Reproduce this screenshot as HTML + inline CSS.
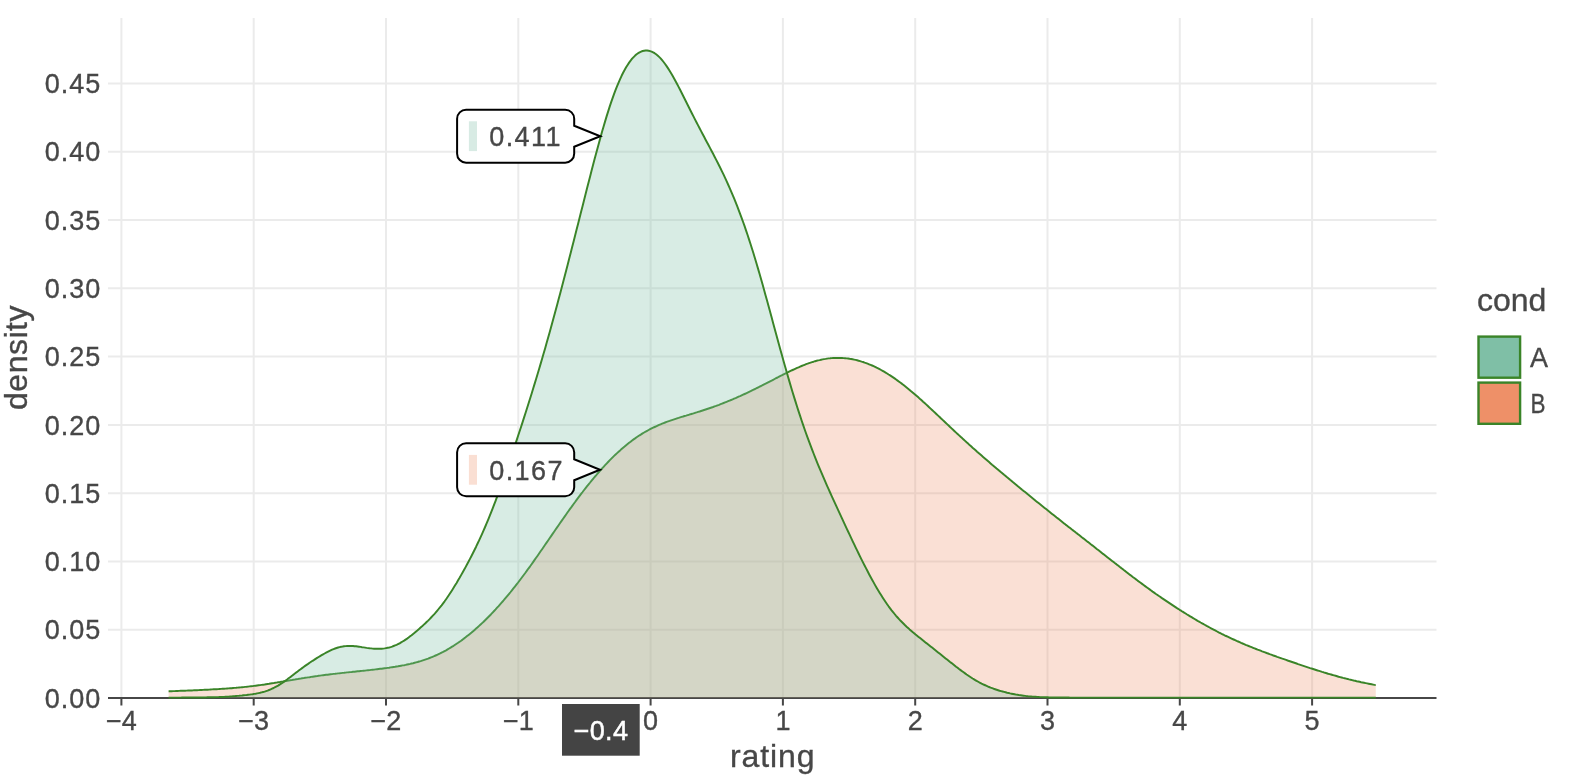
<!DOCTYPE html>
<html><head><meta charset="utf-8"><style>
html,body{margin:0;padding:0;background:#fff;width:1570px;height:784px;overflow:hidden;}
.t{stroke:#474747;stroke-width:0.35px;}
svg{display:block;font-family:"Liberation Sans",sans-serif;will-change:transform;}
</style></head><body>
<svg width="1570" height="784" viewBox="0 0 1570 784">
<rect width="1570" height="784" fill="#ffffff"/>
<path d="M108,629.72H1436.5 M108,561.44H1436.5 M108,493.16H1436.5 M108,424.88H1436.5 M108,356.60H1436.5 M108,288.32H1436.5 M108,220.04H1436.5 M108,151.76H1436.5 M108,83.48H1436.5 M121.40,18V698 M253.70,18V698 M386.00,18V698 M518.30,18V698 M650.60,18V698 M782.90,18V698 M915.20,18V698 M1047.50,18V698 M1179.80,18V698 M1312.10,18V698" stroke="#EBEBEB" stroke-width="2" fill="none"/>
<path d="M108,698H1436.5" stroke="#474747" stroke-width="2.1"/>
<path d="M121.40,698V705.6 M253.70,698V705.6 M386.00,698V705.6 M518.30,698V705.6 M650.60,698V705.6 M782.90,698V705.6 M915.20,698V705.6 M1047.50,698V705.6 M1179.80,698V705.6 M1312.10,698V705.6" stroke="#474747" stroke-width="2"/>
<path d="M168.6,697.6 L168.6,691.3 170.1,691.3 171.6,691.2 173.1,691.1 174.6,691.1 176.1,691.0 177.6,691.0 179.1,690.9 180.6,690.8 182.1,690.8 183.6,690.7 185.1,690.7 186.6,690.6 188.1,690.5 189.6,690.5 191.1,690.4 192.6,690.4 194.1,690.3 195.6,690.2 197.1,690.2 198.6,690.1 200.1,690.0 201.6,690.0 203.1,689.9 204.6,689.8 206.1,689.7 207.6,689.7 209.1,689.6 210.6,689.5 212.1,689.4 213.6,689.3 215.1,689.3 216.6,689.2 218.1,689.1 219.6,689.0 221.1,688.9 222.6,688.8 224.1,688.7 225.6,688.6 227.1,688.5 228.6,688.4 230.1,688.3 231.6,688.2 233.1,688.0 234.6,687.9 236.1,687.8 237.6,687.6 239.1,687.5 240.6,687.4 242.1,687.2 243.6,687.1 245.1,686.9 246.6,686.8 248.1,686.6 249.6,686.4 251.1,686.2 252.6,686.1 254.1,685.9 255.6,685.7 257.1,685.5 258.6,685.3 260.1,685.1 261.6,684.9 263.1,684.7 264.6,684.5 266.1,684.2 267.6,684.0 269.1,683.8 270.6,683.5 272.1,683.3 273.6,683.1 275.1,682.8 276.6,682.6 278.1,682.3 279.6,682.1 281.1,681.8 282.6,681.6 284.1,681.3 285.6,681.1 287.1,680.8 288.6,680.6 290.1,680.3 291.6,680.1 293.1,679.8 294.6,679.6 296.1,679.3 297.6,679.1 299.1,678.8 300.6,678.6 302.1,678.3 303.6,678.1 305.1,677.8 306.6,677.6 308.1,677.4 309.6,677.2 311.1,676.9 312.6,676.7 314.1,676.5 315.6,676.3 317.1,676.1 318.6,675.8 320.1,675.6 321.6,675.4 323.1,675.2 324.6,675.0 326.1,674.8 327.6,674.7 329.1,674.5 330.6,674.3 332.1,674.1 333.6,673.9 335.1,673.8 336.6,673.6 338.1,673.4 339.6,673.3 341.1,673.1 342.6,672.9 344.1,672.8 345.6,672.6 347.1,672.4 348.6,672.3 350.1,672.1 351.6,672.0 353.1,671.8 354.6,671.7 356.1,671.5 357.6,671.3 359.1,671.2 360.6,671.0 362.1,670.9 363.6,670.7 365.1,670.6 366.6,670.4 368.1,670.2 369.6,670.1 371.1,669.9 372.6,669.7 374.1,669.6 375.6,669.4 377.1,669.2 378.6,669.0 380.1,668.8 381.6,668.7 383.1,668.5 384.6,668.3 386.1,668.1 387.6,667.9 389.1,667.7 390.6,667.4 392.1,667.2 393.6,667.0 395.1,666.8 396.6,666.5 398.1,666.3 399.6,666.0 401.1,665.7 402.6,665.4 404.1,665.2 405.6,664.9 407.1,664.5 408.6,664.2 410.1,663.9 411.6,663.5 413.1,663.2 414.6,662.8 416.1,662.4 417.6,662.0 419.1,661.5 420.6,661.1 422.1,660.6 423.6,660.1 425.1,659.6 426.6,659.1 428.1,658.6 429.6,658.0 431.1,657.4 432.6,656.8 434.1,656.2 435.6,655.5 437.1,654.8 438.6,654.1 440.1,653.4 441.6,652.6 443.1,651.9 444.6,651.1 446.1,650.3 447.6,649.4 449.1,648.5 450.6,647.6 452.1,646.7 453.6,645.8 455.1,644.8 456.6,643.8 458.1,642.8 459.6,641.7 461.1,640.7 462.6,639.6 464.1,638.4 465.6,637.3 467.1,636.1 468.6,634.9 470.1,633.7 471.6,632.5 473.1,631.2 474.6,629.9 476.1,628.6 477.6,627.3 479.1,625.9 480.6,624.5 482.1,623.1 483.6,621.7 485.1,620.2 486.6,618.7 488.1,617.2 489.6,615.7 491.1,614.2 492.6,612.6 494.1,611.0 495.6,609.4 497.1,607.7 498.6,606.1 500.1,604.4 501.6,602.7 503.1,601.0 504.6,599.2 506.1,597.4 507.6,595.6 509.1,593.8 510.6,592.0 512.1,590.1 513.6,588.2 515.1,586.3 516.6,584.4 518.1,582.5 519.6,580.5 521.1,578.5 522.6,576.5 524.1,574.5 525.6,572.5 527.1,570.4 528.6,568.3 530.1,566.3 531.6,564.2 533.1,562.1 534.6,559.9 536.1,557.8 537.6,555.7 539.1,553.5 540.6,551.3 542.1,549.2 543.6,547.0 545.1,544.8 546.6,542.6 548.1,540.5 549.6,538.3 551.1,536.1 552.6,533.9 554.1,531.7 555.6,529.5 557.1,527.4 558.6,525.2 560.1,523.0 561.6,520.9 563.1,518.7 564.6,516.6 566.1,514.5 567.6,512.3 569.1,510.2 570.6,508.2 572.1,506.1 573.6,504.0 575.1,502.0 576.6,499.9 578.1,497.9 579.6,495.9 581.1,493.9 582.6,492.0 584.1,490.0 585.6,488.1 587.1,486.2 588.6,484.3 590.1,482.5 591.6,480.6 593.1,478.8 594.6,477.0 596.1,475.3 597.6,473.5 599.1,471.8 600.6,470.1 602.1,468.4 603.6,466.8 605.1,465.2 606.6,463.6 608.1,462.0 609.6,460.4 611.1,458.9 612.6,457.4 614.1,455.9 615.6,454.5 617.1,453.1 618.6,451.7 620.1,450.4 621.6,449.0 623.1,447.7 624.6,446.5 626.1,445.2 627.6,444.0 629.1,442.8 630.6,441.7 632.1,440.5 633.6,439.4 635.1,438.4 636.6,437.3 638.1,436.3 639.6,435.3 641.1,434.4 642.6,433.4 644.1,432.5 645.6,431.7 647.1,430.8 648.6,430.0 650.1,429.2 651.6,428.4 653.1,427.7 654.6,427.0 656.1,426.3 657.6,425.6 659.1,424.9 660.6,424.3 662.1,423.7 663.6,423.1 665.1,422.5 666.6,421.9 668.1,421.4 669.6,420.9 671.1,420.3 672.6,419.8 674.1,419.3 675.6,418.8 677.1,418.3 678.6,417.9 680.1,417.4 681.6,416.9 683.1,416.5 684.6,416.0 686.1,415.6 687.6,415.1 689.1,414.7 690.6,414.2 692.1,413.8 693.6,413.3 695.1,412.8 696.6,412.4 698.1,411.9 699.6,411.5 701.1,411.0 702.6,410.5 704.1,410.0 705.6,409.5 707.1,409.0 708.6,408.5 710.1,408.0 711.6,407.5 713.1,407.0 714.6,406.4 716.1,405.9 717.6,405.3 719.1,404.8 720.6,404.2 722.1,403.6 723.6,403.0 725.1,402.4 726.6,401.8 728.1,401.2 729.6,400.6 731.1,400.0 732.6,399.4 734.1,398.7 735.6,398.1 737.1,397.4 738.6,396.7 740.1,396.1 741.6,395.4 743.1,394.7 744.6,394.0 746.1,393.3 747.6,392.6 749.1,391.9 750.6,391.2 752.1,390.4 753.6,389.7 755.1,389.0 756.6,388.2 758.1,387.5 759.6,386.7 761.1,386.0 762.6,385.2 764.1,384.4 765.6,383.7 767.1,382.9 768.6,382.1 770.1,381.3 771.6,380.6 773.1,379.8 774.6,379.0 776.1,378.2 777.6,377.5 779.1,376.7 780.6,375.9 782.1,375.2 783.6,374.4 785.1,373.6 786.6,372.9 788.1,372.2 789.6,371.4 791.1,370.7 792.6,370.0 794.1,369.3 795.6,368.6 797.1,367.9 798.6,367.3 800.1,366.6 801.6,366.0 803.1,365.4 804.6,364.8 806.1,364.2 807.6,363.7 809.1,363.1 810.6,362.6 812.1,362.1 813.6,361.7 815.1,361.2 816.6,360.8 818.1,360.4 819.6,360.1 821.1,359.7 822.6,359.4 824.1,359.1 825.6,358.9 827.1,358.6 828.6,358.4 830.1,358.3 831.6,358.1 833.1,358.0 834.6,357.9 836.1,357.9 837.6,357.9 839.1,357.9 840.6,357.9 842.1,358.0 843.6,358.1 845.1,358.2 846.6,358.4 848.1,358.5 849.6,358.8 851.1,359.0 852.6,359.3 854.1,359.6 855.6,359.9 857.1,360.3 858.6,360.7 860.1,361.1 861.6,361.6 863.1,362.0 864.6,362.6 866.1,363.1 867.6,363.7 869.1,364.3 870.6,364.9 872.1,365.5 873.6,366.2 875.1,366.9 876.6,367.7 878.1,368.4 879.6,369.2 881.1,370.0 882.6,370.8 884.1,371.7 885.6,372.6 887.1,373.5 888.6,374.5 890.1,375.4 891.6,376.4 893.1,377.4 894.6,378.4 896.1,379.5 897.6,380.6 899.1,381.7 900.6,382.8 902.1,383.9 903.6,385.1 905.1,386.3 906.6,387.5 908.1,388.7 909.6,389.9 911.1,391.2 912.6,392.4 914.1,393.7 915.6,395.0 917.1,396.3 918.6,397.6 920.1,399.0 921.6,400.3 923.1,401.7 924.6,403.0 926.1,404.4 927.6,405.8 929.1,407.2 930.6,408.6 932.1,410.0 933.6,411.4 935.1,412.8 936.6,414.2 938.1,415.6 939.6,417.0 941.1,418.5 942.6,419.9 944.1,421.3 945.6,422.7 947.1,424.1 948.6,425.5 950.1,427.0 951.6,428.4 953.1,429.8 954.6,431.2 956.1,432.6 957.6,434.0 959.1,435.4 960.6,436.8 962.1,438.1 963.6,439.5 965.1,440.9 966.6,442.3 968.1,443.6 969.6,445.0 971.1,446.3 972.6,447.7 974.1,449.0 975.6,450.3 977.1,451.7 978.6,453.0 980.1,454.3 981.6,455.6 983.1,456.9 984.6,458.2 986.1,459.5 987.6,460.8 989.1,462.1 990.6,463.4 992.1,464.7 993.6,465.9 995.1,467.2 996.6,468.5 998.1,469.7 999.6,471.0 1001.1,472.3 1002.6,473.5 1004.1,474.8 1005.6,476.0 1007.1,477.3 1008.6,478.5 1010.1,479.8 1011.6,481.0 1013.1,482.3 1014.6,483.5 1016.1,484.7 1017.6,486.0 1019.1,487.2 1020.6,488.4 1022.1,489.7 1023.6,490.9 1025.1,492.1 1026.6,493.3 1028.1,494.6 1029.6,495.8 1031.1,497.0 1032.6,498.2 1034.1,499.4 1035.6,500.7 1037.1,501.9 1038.6,503.1 1040.1,504.3 1041.6,505.5 1043.1,506.7 1044.6,507.9 1046.1,509.1 1047.6,510.3 1049.1,511.5 1050.6,512.7 1052.1,513.9 1053.6,515.1 1055.1,516.3 1056.6,517.5 1058.1,518.6 1059.6,519.8 1061.1,521.0 1062.6,522.2 1064.1,523.4 1065.6,524.6 1067.1,525.7 1068.6,526.9 1070.1,528.1 1071.6,529.3 1073.1,530.4 1074.6,531.6 1076.1,532.8 1077.6,533.9 1079.1,535.1 1080.6,536.3 1082.1,537.5 1083.6,538.6 1085.1,539.8 1086.6,541.0 1088.1,542.1 1089.6,543.3 1091.1,544.5 1092.6,545.6 1094.1,546.8 1095.6,548.0 1097.1,549.2 1098.6,550.3 1100.1,551.5 1101.6,552.7 1103.1,553.9 1104.6,555.0 1106.1,556.2 1107.6,557.4 1109.1,558.6 1110.6,559.7 1112.1,560.9 1113.6,562.1 1115.1,563.3 1116.6,564.4 1118.1,565.6 1119.6,566.8 1121.1,567.9 1122.6,569.1 1124.1,570.3 1125.6,571.4 1127.1,572.6 1128.6,573.7 1130.1,574.9 1131.6,576.0 1133.1,577.2 1134.6,578.3 1136.1,579.4 1137.6,580.6 1139.1,581.7 1140.6,582.8 1142.1,583.9 1143.6,585.0 1145.1,586.1 1146.6,587.2 1148.1,588.3 1149.6,589.4 1151.1,590.5 1152.6,591.6 1154.1,592.6 1155.6,593.7 1157.1,594.7 1158.6,595.8 1160.1,596.8 1161.6,597.9 1163.1,598.9 1164.6,599.9 1166.1,600.9 1167.6,601.9 1169.1,602.9 1170.6,603.9 1172.1,604.9 1173.6,605.9 1175.1,606.9 1176.6,607.9 1178.1,608.8 1179.6,609.8 1181.1,610.7 1182.6,611.7 1184.1,612.6 1185.6,613.5 1187.1,614.5 1188.6,615.4 1190.1,616.3 1191.6,617.2 1193.1,618.1 1194.6,619.0 1196.1,619.9 1197.6,620.8 1199.1,621.6 1200.6,622.5 1202.1,623.3 1203.6,624.2 1205.1,625.0 1206.6,625.9 1208.1,626.7 1209.6,627.5 1211.1,628.3 1212.6,629.1 1214.1,629.9 1215.6,630.7 1217.1,631.5 1218.6,632.3 1220.1,633.0 1221.6,633.8 1223.1,634.5 1224.6,635.3 1226.1,636.0 1227.6,636.7 1229.1,637.4 1230.6,638.1 1232.1,638.8 1233.6,639.5 1235.1,640.2 1236.6,640.9 1238.1,641.5 1239.6,642.2 1241.1,642.9 1242.6,643.5 1244.1,644.1 1245.6,644.8 1247.1,645.4 1248.6,646.0 1250.1,646.6 1251.6,647.2 1253.1,647.8 1254.6,648.4 1256.1,649.0 1257.6,649.6 1259.1,650.1 1260.6,650.7 1262.1,651.3 1263.6,651.8 1265.1,652.4 1266.6,653.0 1268.1,653.5 1269.6,654.1 1271.1,654.6 1272.6,655.2 1274.1,655.7 1275.6,656.2 1277.1,656.8 1278.6,657.3 1280.1,657.8 1281.6,658.4 1283.1,658.9 1284.6,659.4 1286.1,659.9 1287.6,660.5 1289.1,661.0 1290.6,661.5 1292.1,662.0 1293.6,662.5 1295.1,663.0 1296.6,663.5 1298.1,664.1 1299.6,664.6 1301.1,665.1 1302.6,665.6 1304.1,666.1 1305.6,666.6 1307.1,667.1 1308.6,667.6 1310.1,668.1 1311.6,668.5 1313.1,669.0 1314.6,669.5 1316.1,670.0 1317.6,670.5 1319.1,670.9 1320.6,671.4 1322.1,671.9 1323.6,672.3 1325.1,672.8 1326.6,673.2 1328.1,673.7 1329.6,674.1 1331.1,674.5 1332.6,675.0 1334.1,675.4 1335.6,675.8 1337.1,676.2 1338.6,676.7 1340.1,677.1 1341.6,677.5 1343.1,677.9 1344.6,678.2 1346.1,678.6 1347.6,679.0 1349.1,679.4 1350.6,679.7 1352.1,680.1 1353.6,680.5 1355.1,680.8 1356.6,681.2 1358.1,681.5 1359.6,681.8 1361.1,682.2 1362.6,682.5 1364.1,682.8 1365.6,683.1 1367.1,683.4 1368.6,683.7 1370.1,684.0 1371.6,684.3 1373.1,684.6 1374.6,684.9 1375.8,685.1 L1375.8,697.6 Z" fill="rgba(238,144,105,0.28)" stroke="none"/>
<path d="M168.6,691.3 170.1,691.3 171.6,691.2 173.1,691.1 174.6,691.1 176.1,691.0 177.6,691.0 179.1,690.9 180.6,690.8 182.1,690.8 183.6,690.7 185.1,690.7 186.6,690.6 188.1,690.5 189.6,690.5 191.1,690.4 192.6,690.4 194.1,690.3 195.6,690.2 197.1,690.2 198.6,690.1 200.1,690.0 201.6,690.0 203.1,689.9 204.6,689.8 206.1,689.7 207.6,689.7 209.1,689.6 210.6,689.5 212.1,689.4 213.6,689.3 215.1,689.3 216.6,689.2 218.1,689.1 219.6,689.0 221.1,688.9 222.6,688.8 224.1,688.7 225.6,688.6 227.1,688.5 228.6,688.4 230.1,688.3 231.6,688.2 233.1,688.0 234.6,687.9 236.1,687.8 237.6,687.6 239.1,687.5 240.6,687.4 242.1,687.2 243.6,687.1 245.1,686.9 246.6,686.8 248.1,686.6 249.6,686.4 251.1,686.2 252.6,686.1 254.1,685.9 255.6,685.7 257.1,685.5 258.6,685.3 260.1,685.1 261.6,684.9 263.1,684.7 264.6,684.5 266.1,684.2 267.6,684.0 269.1,683.8 270.6,683.5 272.1,683.3 273.6,683.1 275.1,682.8 276.6,682.6 278.1,682.3 279.6,682.1 281.1,681.8 282.6,681.6 284.1,681.3 285.6,681.1 287.1,680.8 288.6,680.6 290.1,680.3 291.6,680.1 293.1,679.8 294.6,679.6 296.1,679.3 297.6,679.1 299.1,678.8 300.6,678.6 302.1,678.3 303.6,678.1 305.1,677.8 306.6,677.6 308.1,677.4 309.6,677.2 311.1,676.9 312.6,676.7 314.1,676.5 315.6,676.3 317.1,676.1 318.6,675.8 320.1,675.6 321.6,675.4 323.1,675.2 324.6,675.0 326.1,674.8 327.6,674.7 329.1,674.5 330.6,674.3 332.1,674.1 333.6,673.9 335.1,673.8 336.6,673.6 338.1,673.4 339.6,673.3 341.1,673.1 342.6,672.9 344.1,672.8 345.6,672.6 347.1,672.4 348.6,672.3 350.1,672.1 351.6,672.0 353.1,671.8 354.6,671.7 356.1,671.5 357.6,671.3 359.1,671.2 360.6,671.0 362.1,670.9 363.6,670.7 365.1,670.6 366.6,670.4 368.1,670.2 369.6,670.1 371.1,669.9 372.6,669.7 374.1,669.6 375.6,669.4 377.1,669.2 378.6,669.0 380.1,668.8 381.6,668.7 383.1,668.5 384.6,668.3 386.1,668.1 387.6,667.9 389.1,667.7 390.6,667.4 392.1,667.2 393.6,667.0 395.1,666.8 396.6,666.5 398.1,666.3 399.6,666.0 401.1,665.7 402.6,665.4 404.1,665.2 405.6,664.9 407.1,664.5 408.6,664.2 410.1,663.9 411.6,663.5 413.1,663.2 414.6,662.8 416.1,662.4 417.6,662.0 419.1,661.5 420.6,661.1 422.1,660.6 423.6,660.1 425.1,659.6 426.6,659.1 428.1,658.6 429.6,658.0 431.1,657.4 432.6,656.8 434.1,656.2 435.6,655.5 437.1,654.8 438.6,654.1 440.1,653.4 441.6,652.6 443.1,651.9 444.6,651.1 446.1,650.3 447.6,649.4 449.1,648.5 450.6,647.6 452.1,646.7 453.6,645.8 455.1,644.8 456.6,643.8 458.1,642.8 459.6,641.7 461.1,640.7 462.6,639.6 464.1,638.4 465.6,637.3 467.1,636.1 468.6,634.9 470.1,633.7 471.6,632.5 473.1,631.2 474.6,629.9 476.1,628.6 477.6,627.3 479.1,625.9 480.6,624.5 482.1,623.1 483.6,621.7 485.1,620.2 486.6,618.7 488.1,617.2 489.6,615.7 491.1,614.2 492.6,612.6 494.1,611.0 495.6,609.4 497.1,607.7 498.6,606.1 500.1,604.4 501.6,602.7 503.1,601.0 504.6,599.2 506.1,597.4 507.6,595.6 509.1,593.8 510.6,592.0 512.1,590.1 513.6,588.2 515.1,586.3 516.6,584.4 518.1,582.5 519.6,580.5 521.1,578.5 522.6,576.5 524.1,574.5 525.6,572.5 527.1,570.4 528.6,568.3 530.1,566.3 531.6,564.2 533.1,562.1 534.6,559.9 536.1,557.8 537.6,555.7 539.1,553.5 540.6,551.3 542.1,549.2 543.6,547.0 545.1,544.8 546.6,542.6 548.1,540.5 549.6,538.3 551.1,536.1 552.6,533.9 554.1,531.7 555.6,529.5 557.1,527.4 558.6,525.2 560.1,523.0 561.6,520.9 563.1,518.7 564.6,516.6 566.1,514.5 567.6,512.3 569.1,510.2 570.6,508.2 572.1,506.1 573.6,504.0 575.1,502.0 576.6,499.9 578.1,497.9 579.6,495.9 581.1,493.9 582.6,492.0 584.1,490.0 585.6,488.1 587.1,486.2 588.6,484.3 590.1,482.5 591.6,480.6 593.1,478.8 594.6,477.0 596.1,475.3 597.6,473.5 599.1,471.8 600.6,470.1 602.1,468.4 603.6,466.8 605.1,465.2 606.6,463.6 608.1,462.0 609.6,460.4 611.1,458.9 612.6,457.4 614.1,455.9 615.6,454.5 617.1,453.1 618.6,451.7 620.1,450.4 621.6,449.0 623.1,447.7 624.6,446.5 626.1,445.2 627.6,444.0 629.1,442.8 630.6,441.7 632.1,440.5 633.6,439.4 635.1,438.4 636.6,437.3 638.1,436.3 639.6,435.3 641.1,434.4 642.6,433.4 644.1,432.5 645.6,431.7 647.1,430.8 648.6,430.0 650.1,429.2 651.6,428.4 653.1,427.7 654.6,427.0 656.1,426.3 657.6,425.6 659.1,424.9 660.6,424.3 662.1,423.7 663.6,423.1 665.1,422.5 666.6,421.9 668.1,421.4 669.6,420.9 671.1,420.3 672.6,419.8 674.1,419.3 675.6,418.8 677.1,418.3 678.6,417.9 680.1,417.4 681.6,416.9 683.1,416.5 684.6,416.0 686.1,415.6 687.6,415.1 689.1,414.7 690.6,414.2 692.1,413.8 693.6,413.3 695.1,412.8 696.6,412.4 698.1,411.9 699.6,411.5 701.1,411.0 702.6,410.5 704.1,410.0 705.6,409.5 707.1,409.0 708.6,408.5 710.1,408.0 711.6,407.5 713.1,407.0 714.6,406.4 716.1,405.9 717.6,405.3 719.1,404.8 720.6,404.2 722.1,403.6 723.6,403.0 725.1,402.4 726.6,401.8 728.1,401.2 729.6,400.6 731.1,400.0 732.6,399.4 734.1,398.7 735.6,398.1 737.1,397.4 738.6,396.7 740.1,396.1 741.6,395.4 743.1,394.7 744.6,394.0 746.1,393.3 747.6,392.6 749.1,391.9 750.6,391.2 752.1,390.4 753.6,389.7 755.1,389.0 756.6,388.2 758.1,387.5 759.6,386.7 761.1,386.0 762.6,385.2 764.1,384.4 765.6,383.7 767.1,382.9 768.6,382.1 770.1,381.3 771.6,380.6 773.1,379.8 774.6,379.0 776.1,378.2 777.6,377.5 779.1,376.7 780.6,375.9 782.1,375.2 783.6,374.4 785.1,373.6 786.6,372.9 788.1,372.2 789.6,371.4 791.1,370.7 792.6,370.0 794.1,369.3 795.6,368.6 797.1,367.9 798.6,367.3 800.1,366.6 801.6,366.0 803.1,365.4 804.6,364.8 806.1,364.2 807.6,363.7 809.1,363.1 810.6,362.6 812.1,362.1 813.6,361.7 815.1,361.2 816.6,360.8 818.1,360.4 819.6,360.1 821.1,359.7 822.6,359.4 824.1,359.1 825.6,358.9 827.1,358.6 828.6,358.4 830.1,358.3 831.6,358.1 833.1,358.0 834.6,357.9 836.1,357.9 837.6,357.9 839.1,357.9 840.6,357.9 842.1,358.0 843.6,358.1 845.1,358.2 846.6,358.4 848.1,358.5 849.6,358.8 851.1,359.0 852.6,359.3 854.1,359.6 855.6,359.9 857.1,360.3 858.6,360.7 860.1,361.1 861.6,361.6 863.1,362.0 864.6,362.6 866.1,363.1 867.6,363.7 869.1,364.3 870.6,364.9 872.1,365.5 873.6,366.2 875.1,366.9 876.6,367.7 878.1,368.4 879.6,369.2 881.1,370.0 882.6,370.8 884.1,371.7 885.6,372.6 887.1,373.5 888.6,374.5 890.1,375.4 891.6,376.4 893.1,377.4 894.6,378.4 896.1,379.5 897.6,380.6 899.1,381.7 900.6,382.8 902.1,383.9 903.6,385.1 905.1,386.3 906.6,387.5 908.1,388.7 909.6,389.9 911.1,391.2 912.6,392.4 914.1,393.7 915.6,395.0 917.1,396.3 918.6,397.6 920.1,399.0 921.6,400.3 923.1,401.7 924.6,403.0 926.1,404.4 927.6,405.8 929.1,407.2 930.6,408.6 932.1,410.0 933.6,411.4 935.1,412.8 936.6,414.2 938.1,415.6 939.6,417.0 941.1,418.5 942.6,419.9 944.1,421.3 945.6,422.7 947.1,424.1 948.6,425.5 950.1,427.0 951.6,428.4 953.1,429.8 954.6,431.2 956.1,432.6 957.6,434.0 959.1,435.4 960.6,436.8 962.1,438.1 963.6,439.5 965.1,440.9 966.6,442.3 968.1,443.6 969.6,445.0 971.1,446.3 972.6,447.7 974.1,449.0 975.6,450.3 977.1,451.7 978.6,453.0 980.1,454.3 981.6,455.6 983.1,456.9 984.6,458.2 986.1,459.5 987.6,460.8 989.1,462.1 990.6,463.4 992.1,464.7 993.6,465.9 995.1,467.2 996.6,468.5 998.1,469.7 999.6,471.0 1001.1,472.3 1002.6,473.5 1004.1,474.8 1005.6,476.0 1007.1,477.3 1008.6,478.5 1010.1,479.8 1011.6,481.0 1013.1,482.3 1014.6,483.5 1016.1,484.7 1017.6,486.0 1019.1,487.2 1020.6,488.4 1022.1,489.7 1023.6,490.9 1025.1,492.1 1026.6,493.3 1028.1,494.6 1029.6,495.8 1031.1,497.0 1032.6,498.2 1034.1,499.4 1035.6,500.7 1037.1,501.9 1038.6,503.1 1040.1,504.3 1041.6,505.5 1043.1,506.7 1044.6,507.9 1046.1,509.1 1047.6,510.3 1049.1,511.5 1050.6,512.7 1052.1,513.9 1053.6,515.1 1055.1,516.3 1056.6,517.5 1058.1,518.6 1059.6,519.8 1061.1,521.0 1062.6,522.2 1064.1,523.4 1065.6,524.6 1067.1,525.7 1068.6,526.9 1070.1,528.1 1071.6,529.3 1073.1,530.4 1074.6,531.6 1076.1,532.8 1077.6,533.9 1079.1,535.1 1080.6,536.3 1082.1,537.5 1083.6,538.6 1085.1,539.8 1086.6,541.0 1088.1,542.1 1089.6,543.3 1091.1,544.5 1092.6,545.6 1094.1,546.8 1095.6,548.0 1097.1,549.2 1098.6,550.3 1100.1,551.5 1101.6,552.7 1103.1,553.9 1104.6,555.0 1106.1,556.2 1107.6,557.4 1109.1,558.6 1110.6,559.7 1112.1,560.9 1113.6,562.1 1115.1,563.3 1116.6,564.4 1118.1,565.6 1119.6,566.8 1121.1,567.9 1122.6,569.1 1124.1,570.3 1125.6,571.4 1127.1,572.6 1128.6,573.7 1130.1,574.9 1131.6,576.0 1133.1,577.2 1134.6,578.3 1136.1,579.4 1137.6,580.6 1139.1,581.7 1140.6,582.8 1142.1,583.9 1143.6,585.0 1145.1,586.1 1146.6,587.2 1148.1,588.3 1149.6,589.4 1151.1,590.5 1152.6,591.6 1154.1,592.6 1155.6,593.7 1157.1,594.7 1158.6,595.8 1160.1,596.8 1161.6,597.9 1163.1,598.9 1164.6,599.9 1166.1,600.9 1167.6,601.9 1169.1,602.9 1170.6,603.9 1172.1,604.9 1173.6,605.9 1175.1,606.9 1176.6,607.9 1178.1,608.8 1179.6,609.8 1181.1,610.7 1182.6,611.7 1184.1,612.6 1185.6,613.5 1187.1,614.5 1188.6,615.4 1190.1,616.3 1191.6,617.2 1193.1,618.1 1194.6,619.0 1196.1,619.9 1197.6,620.8 1199.1,621.6 1200.6,622.5 1202.1,623.3 1203.6,624.2 1205.1,625.0 1206.6,625.9 1208.1,626.7 1209.6,627.5 1211.1,628.3 1212.6,629.1 1214.1,629.9 1215.6,630.7 1217.1,631.5 1218.6,632.3 1220.1,633.0 1221.6,633.8 1223.1,634.5 1224.6,635.3 1226.1,636.0 1227.6,636.7 1229.1,637.4 1230.6,638.1 1232.1,638.8 1233.6,639.5 1235.1,640.2 1236.6,640.9 1238.1,641.5 1239.6,642.2 1241.1,642.9 1242.6,643.5 1244.1,644.1 1245.6,644.8 1247.1,645.4 1248.6,646.0 1250.1,646.6 1251.6,647.2 1253.1,647.8 1254.6,648.4 1256.1,649.0 1257.6,649.6 1259.1,650.1 1260.6,650.7 1262.1,651.3 1263.6,651.8 1265.1,652.4 1266.6,653.0 1268.1,653.5 1269.6,654.1 1271.1,654.6 1272.6,655.2 1274.1,655.7 1275.6,656.2 1277.1,656.8 1278.6,657.3 1280.1,657.8 1281.6,658.4 1283.1,658.9 1284.6,659.4 1286.1,659.9 1287.6,660.5 1289.1,661.0 1290.6,661.5 1292.1,662.0 1293.6,662.5 1295.1,663.0 1296.6,663.5 1298.1,664.1 1299.6,664.6 1301.1,665.1 1302.6,665.6 1304.1,666.1 1305.6,666.6 1307.1,667.1 1308.6,667.6 1310.1,668.1 1311.6,668.5 1313.1,669.0 1314.6,669.5 1316.1,670.0 1317.6,670.5 1319.1,670.9 1320.6,671.4 1322.1,671.9 1323.6,672.3 1325.1,672.8 1326.6,673.2 1328.1,673.7 1329.6,674.1 1331.1,674.5 1332.6,675.0 1334.1,675.4 1335.6,675.8 1337.1,676.2 1338.6,676.7 1340.1,677.1 1341.6,677.5 1343.1,677.9 1344.6,678.2 1346.1,678.6 1347.6,679.0 1349.1,679.4 1350.6,679.7 1352.1,680.1 1353.6,680.5 1355.1,680.8 1356.6,681.2 1358.1,681.5 1359.6,681.8 1361.1,682.2 1362.6,682.5 1364.1,682.8 1365.6,683.1 1367.1,683.4 1368.6,683.7 1370.1,684.0 1371.6,684.3 1373.1,684.6 1374.6,684.9 1375.8,685.1" fill="none" stroke="#3a8428" stroke-width="1.95" stroke-linejoin="round"/>
<path d="M168.6,697.6 L168.6,697.6 170.1,697.6 171.6,697.6 173.1,697.6 174.6,697.6 176.1,697.6 177.6,697.6 179.1,697.6 180.6,697.6 182.1,697.5 183.6,697.5 185.1,697.5 186.6,697.5 188.1,697.5 189.6,697.5 191.1,697.5 192.6,697.5 194.1,697.5 195.6,697.5 197.1,697.4 198.6,697.4 200.1,697.4 201.6,697.4 203.1,697.4 204.6,697.4 206.1,697.4 207.6,697.3 209.1,697.3 210.6,697.3 212.1,697.3 213.6,697.2 215.1,697.2 216.6,697.1 218.1,697.1 219.6,697.0 221.1,697.0 222.6,696.9 224.1,696.9 225.6,696.8 227.1,696.7 228.6,696.6 230.1,696.5 231.6,696.4 233.1,696.3 234.6,696.2 236.1,696.0 237.6,695.9 239.1,695.8 240.6,695.6 242.1,695.5 243.6,695.3 245.1,695.1 246.6,695.0 248.1,694.8 249.6,694.6 251.1,694.4 252.6,694.2 254.1,693.9 255.6,693.7 257.1,693.4 258.6,693.1 260.1,692.8 261.6,692.4 263.1,692.0 264.6,691.6 266.1,691.1 267.6,690.6 269.1,690.0 270.6,689.4 272.1,688.7 273.6,688.0 275.1,687.2 276.6,686.4 278.1,685.6 279.6,684.6 281.1,683.7 282.6,682.7 284.1,681.6 285.6,680.6 287.1,679.5 288.6,678.3 290.1,677.2 291.6,676.1 293.1,674.9 294.6,673.8 296.1,672.6 297.6,671.5 299.1,670.3 300.6,669.2 302.1,668.1 303.6,667.0 305.1,665.9 306.6,664.9 308.1,663.9 309.6,662.8 311.1,661.8 312.6,660.8 314.1,659.9 315.6,658.9 317.1,657.9 318.6,657.0 320.1,656.1 321.6,655.2 323.1,654.3 324.6,653.5 326.1,652.7 327.6,651.9 329.1,651.1 330.6,650.4 332.1,649.7 333.6,649.1 335.1,648.5 336.6,648.0 338.1,647.5 339.6,647.1 341.1,646.7 342.6,646.5 344.1,646.2 345.6,646.1 347.1,646.0 348.6,645.9 350.1,645.9 351.6,646.0 353.1,646.0 354.6,646.2 356.1,646.3 357.6,646.5 359.1,646.7 360.6,646.9 362.1,647.2 363.6,647.4 365.1,647.6 366.6,647.9 368.1,648.1 369.6,648.3 371.1,648.4 372.6,648.6 374.1,648.7 375.6,648.8 377.1,648.8 378.6,648.8 380.1,648.8 381.6,648.7 383.1,648.6 384.6,648.4 386.1,648.1 387.6,647.8 389.1,647.5 390.6,647.1 392.1,646.6 393.6,646.0 395.1,645.4 396.6,644.8 398.1,644.0 399.6,643.3 401.1,642.4 402.6,641.5 404.1,640.6 405.6,639.6 407.1,638.6 408.6,637.5 410.1,636.3 411.6,635.2 413.1,634.0 414.6,632.8 416.1,631.5 417.6,630.3 419.1,628.9 420.6,627.6 422.1,626.3 423.6,624.9 425.1,623.5 426.6,622.0 428.1,620.6 429.6,619.1 431.1,617.5 432.6,615.9 434.1,614.3 435.6,612.6 437.1,610.8 438.6,609.0 440.1,607.2 441.6,605.3 443.1,603.3 444.6,601.3 446.1,599.2 447.6,597.0 449.1,594.8 450.6,592.5 452.1,590.2 453.6,587.8 455.1,585.3 456.6,582.9 458.1,580.3 459.6,577.8 461.1,575.1 462.6,572.5 464.1,569.8 465.6,567.1 467.1,564.3 468.6,561.5 470.1,558.6 471.6,555.7 473.1,552.7 474.6,549.7 476.1,546.7 477.6,543.5 479.1,540.4 480.6,537.1 482.1,533.8 483.6,530.4 485.1,527.0 486.6,523.4 488.1,519.8 489.6,516.2 491.1,512.4 492.6,508.6 494.1,504.7 495.6,500.8 497.1,496.7 498.6,492.7 500.1,488.5 501.6,484.3 503.1,480.1 504.6,475.8 506.1,471.5 507.6,467.1 509.1,462.8 510.6,458.3 512.1,453.9 513.6,449.4 515.1,444.9 516.6,440.4 518.1,435.8 519.6,431.3 521.1,426.7 522.6,422.1 524.1,417.4 525.6,412.7 527.1,408.0 528.6,403.3 530.1,398.5 531.6,393.7 533.1,388.8 534.6,383.9 536.1,379.0 537.6,374.0 539.1,369.0 540.6,363.9 542.1,358.8 543.6,353.6 545.1,348.4 546.6,343.1 548.1,337.8 549.6,332.5 551.1,327.1 552.6,321.6 554.1,316.1 555.6,310.5 557.1,305.0 558.6,299.3 560.1,293.7 561.6,288.0 563.1,282.3 564.6,276.5 566.1,270.7 567.6,264.9 569.1,259.1 570.6,253.2 572.1,247.3 573.6,241.4 575.1,235.5 576.6,229.6 578.1,223.7 579.6,217.7 581.1,211.8 582.6,205.9 584.1,199.9 585.6,194.0 587.1,188.1 588.6,182.3 590.1,176.4 591.6,170.6 593.1,164.8 594.6,159.1 596.1,153.5 597.6,147.9 599.1,142.4 600.6,137.0 602.1,131.6 603.6,126.4 605.1,121.4 606.6,116.4 608.1,111.6 609.6,106.9 611.1,102.4 612.6,98.1 614.1,93.9 615.6,89.9 617.1,86.1 618.6,82.5 620.1,79.1 621.6,75.8 623.1,72.8 624.6,70.0 626.1,67.3 627.6,64.9 629.1,62.6 630.6,60.6 632.1,58.7 633.6,57.1 635.1,55.6 636.6,54.3 638.1,53.2 639.6,52.3 641.1,51.6 642.6,51.0 644.1,50.7 645.6,50.5 647.1,50.5 648.6,50.7 650.1,51.1 651.6,51.6 653.1,52.3 654.6,53.2 656.1,54.3 657.6,55.5 659.1,56.9 660.6,58.4 662.1,60.2 663.6,62.0 665.1,64.0 666.6,66.1 668.1,68.4 669.6,70.7 671.1,73.2 672.6,75.8 674.1,78.5 675.6,81.2 677.1,84.0 678.6,86.9 680.1,89.8 681.6,92.7 683.1,95.7 684.6,98.7 686.1,101.7 687.6,104.7 689.1,107.7 690.6,110.7 692.1,113.7 693.6,116.6 695.1,119.6 696.6,122.5 698.1,125.4 699.6,128.3 701.1,131.1 702.6,134.0 704.1,136.8 705.6,139.7 707.1,142.5 708.6,145.3 710.1,148.1 711.6,151.0 713.1,153.8 714.6,156.7 716.1,159.6 717.6,162.5 719.1,165.5 720.6,168.5 722.1,171.6 723.6,174.7 725.1,177.9 726.6,181.2 728.1,184.5 729.6,187.8 731.1,191.3 732.6,194.8 734.1,198.4 735.6,202.1 737.1,205.9 738.6,209.8 740.1,213.8 741.6,217.8 743.1,222.0 744.6,226.2 746.1,230.6 747.6,235.0 749.1,239.6 750.6,244.2 752.1,249.0 753.6,253.8 755.1,258.8 756.6,263.8 758.1,268.9 759.6,274.0 761.1,279.3 762.6,284.6 764.1,289.9 765.6,295.4 767.1,300.8 768.6,306.3 770.1,311.8 771.6,317.3 773.1,322.9 774.6,328.4 776.1,334.0 777.6,339.5 779.1,344.9 780.6,350.4 782.1,355.8 783.6,361.2 785.1,366.5 786.6,371.8 788.1,377.0 789.6,382.1 791.1,387.2 792.6,392.2 794.1,397.1 795.6,401.9 797.1,406.7 798.6,411.4 800.1,415.9 801.6,420.5 803.1,424.9 804.6,429.2 806.1,433.5 807.6,437.6 809.1,441.7 810.6,445.7 812.1,449.7 813.6,453.5 815.1,457.3 816.6,461.1 818.1,464.8 819.6,468.4 821.1,471.9 822.6,475.4 824.1,478.9 825.6,482.4 827.1,485.8 828.6,489.1 830.1,492.5 831.6,495.8 833.1,499.1 834.6,502.4 836.1,505.7 837.6,508.9 839.1,512.2 840.6,515.4 842.1,518.7 843.6,521.9 845.1,525.1 846.6,528.3 848.1,531.5 849.6,534.7 851.1,537.9 852.6,541.1 854.1,544.2 855.6,547.3 857.1,550.4 858.6,553.5 860.1,556.6 861.6,559.6 863.1,562.6 864.6,565.5 866.1,568.4 867.6,571.3 869.1,574.2 870.6,577.0 872.1,579.7 873.6,582.4 875.1,585.1 876.6,587.7 878.1,590.2 879.6,592.7 881.1,595.1 882.6,597.5 884.1,599.8 885.6,602.0 887.1,604.2 888.6,606.3 890.1,608.3 891.6,610.3 893.1,612.2 894.6,614.0 896.1,615.8 897.6,617.5 899.1,619.2 900.6,620.8 902.1,622.3 903.6,623.8 905.1,625.3 906.6,626.7 908.1,628.0 909.6,629.4 911.1,630.7 912.6,632.0 914.1,633.2 915.6,634.5 917.1,635.7 918.6,636.9 920.1,638.1 921.6,639.3 923.1,640.5 924.6,641.7 926.1,642.9 927.6,644.0 929.1,645.2 930.6,646.4 932.1,647.6 933.6,648.8 935.1,650.0 936.6,651.2 938.1,652.4 939.6,653.6 941.1,654.8 942.6,656.0 944.1,657.2 945.6,658.4 947.1,659.6 948.6,660.8 950.1,662.0 951.6,663.1 953.1,664.3 954.6,665.5 956.1,666.7 957.6,667.8 959.1,669.0 960.6,670.1 962.1,671.2 963.6,672.3 965.1,673.4 966.6,674.5 968.1,675.5 969.6,676.5 971.1,677.5 972.6,678.5 974.1,679.4 975.6,680.3 977.1,681.2 978.6,682.0 980.1,682.8 981.6,683.6 983.1,684.3 984.6,685.0 986.1,685.7 987.6,686.4 989.1,687.0 990.6,687.6 992.1,688.1 993.6,688.7 995.1,689.2 996.6,689.7 998.1,690.2 999.6,690.7 1001.1,691.1 1002.6,691.5 1004.1,691.9 1005.6,692.3 1007.1,692.7 1008.6,693.0 1010.1,693.4 1011.6,693.7 1013.1,694.0 1014.6,694.3 1016.1,694.6 1017.6,694.8 1019.1,695.1 1020.6,695.3 1022.1,695.5 1023.6,695.7 1025.1,695.9 1026.6,696.1 1028.1,696.3 1029.6,696.4 1031.1,696.5 1032.6,696.6 1034.1,696.8 1035.6,696.8 1037.1,696.9 1038.6,697.0 1040.1,697.1 1041.6,697.1 1043.1,697.2 1044.6,697.2 1046.1,697.3 1047.6,697.3 1049.1,697.4 1050.6,697.4 1052.1,697.4 1053.6,697.4 1055.1,697.4 1056.6,697.5 1058.1,697.5 1059.6,697.5 1061.1,697.5 1062.6,697.5 1064.1,697.5 1065.6,697.5 1067.1,697.5 1068.6,697.5 1070.1,697.6 1071.6,697.6 1073.1,697.6 1074.6,697.6 1076.1,697.6 1077.6,697.6 1079.1,697.6 1080.6,697.6 1082.1,697.6 1083.6,697.6 1085.1,697.6 1086.6,697.6 1088.1,697.6 1089.6,697.6 1091.1,697.6 1092.6,697.6 1094.1,697.6 1095.6,697.6 1097.1,697.6 1098.6,697.6 1100.1,697.6 1101.6,697.6 1103.1,697.6 1104.6,697.6 1106.1,697.6 1107.6,697.6 1109.1,697.6 1110.6,697.6 1112.1,697.6 1113.6,697.6 1115.1,697.6 1116.6,697.6 1118.1,697.6 1119.6,697.6 1121.1,697.6 1122.6,697.6 1124.1,697.6 1125.6,697.6 1127.1,697.6 1128.6,697.6 1130.1,697.6 1131.6,697.6 1133.1,697.6 1134.6,697.6 1136.1,697.6 1137.6,697.6 1139.1,697.6 1140.6,697.6 1142.1,697.6 1143.6,697.6 1145.1,697.6 1146.6,697.6 1148.1,697.6 1149.6,697.6 1151.1,697.6 1152.6,697.6 1154.1,697.6 1155.6,697.6 1157.1,697.6 1158.6,697.6 1160.1,697.6 1161.6,697.6 1163.1,697.6 1164.6,697.6 1166.1,697.6 1167.6,697.6 1169.1,697.6 1170.6,697.6 1172.1,697.6 1173.6,697.6 1175.1,697.6 1176.6,697.6 1178.1,697.6 1179.6,697.6 1181.1,697.6 1182.6,697.6 1184.1,697.6 1185.6,697.6 1187.1,697.6 1188.6,697.6 1190.1,697.6 1191.6,697.6 1193.1,697.6 1194.6,697.6 1196.1,697.6 1197.6,697.6 1199.1,697.6 1200.6,697.6 1202.1,697.6 1203.6,697.6 1205.1,697.6 1206.6,697.6 1208.1,697.6 1209.6,697.6 1211.1,697.6 1212.6,697.6 1214.1,697.6 1215.6,697.6 1217.1,697.6 1218.6,697.6 1220.1,697.6 1221.6,697.6 1223.1,697.6 1224.6,697.6 1226.1,697.6 1227.6,697.6 1229.1,697.6 1230.6,697.6 1232.1,697.6 1233.6,697.6 1235.1,697.6 1236.6,697.6 1238.1,697.6 1239.6,697.6 1241.1,697.6 1242.6,697.6 1244.1,697.6 1245.6,697.6 1247.1,697.6 1248.6,697.6 1250.1,697.6 1251.6,697.6 1253.1,697.6 1254.6,697.6 1256.1,697.6 1257.6,697.6 1259.1,697.6 1260.6,697.6 1262.1,697.6 1263.6,697.6 1265.1,697.6 1266.6,697.6 1268.1,697.6 1269.6,697.6 1271.1,697.6 1272.6,697.6 1274.1,697.6 1275.6,697.6 1277.1,697.6 1278.6,697.6 1280.1,697.6 1281.6,697.6 1283.1,697.6 1284.6,697.6 1286.1,697.6 1287.6,697.6 1289.1,697.6 1290.6,697.6 1292.1,697.6 1293.6,697.6 1295.1,697.6 1296.6,697.6 1298.1,697.6 1299.6,697.6 1301.1,697.6 1302.6,697.6 1304.1,697.6 1305.6,697.6 1307.1,697.6 1308.6,697.6 1310.1,697.6 1311.6,697.6 1313.1,697.6 1314.6,697.6 1316.1,697.6 1317.6,697.6 1319.1,697.6 1320.6,697.6 1322.1,697.6 1323.6,697.6 1325.1,697.6 1326.6,697.6 1328.1,697.6 1329.6,697.6 1331.1,697.6 1332.6,697.6 1334.1,697.6 1335.6,697.6 1337.1,697.6 1338.6,697.6 1340.1,697.6 1341.6,697.6 1343.1,697.6 1344.6,697.6 1346.1,697.6 1347.6,697.6 1349.1,697.6 1350.6,697.6 1352.1,697.6 1353.6,697.6 1355.1,697.6 1356.6,697.6 1358.1,697.6 1359.6,697.6 1361.1,697.6 1362.6,697.6 1364.1,697.6 1365.6,697.6 1367.1,697.6 1368.6,697.6 1370.1,697.6 1371.6,697.6 1373.1,697.6 1374.6,697.6 1375.8,697.6 L1375.8,697.6 Z" fill="rgba(127,191,166,0.3)" stroke="none"/>
<path d="M168.6,697.6 170.1,697.6 171.6,697.6 173.1,697.6 174.6,697.6 176.1,697.6 177.6,697.6 179.1,697.6 180.6,697.6 182.1,697.5 183.6,697.5 185.1,697.5 186.6,697.5 188.1,697.5 189.6,697.5 191.1,697.5 192.6,697.5 194.1,697.5 195.6,697.5 197.1,697.4 198.6,697.4 200.1,697.4 201.6,697.4 203.1,697.4 204.6,697.4 206.1,697.4 207.6,697.3 209.1,697.3 210.6,697.3 212.1,697.3 213.6,697.2 215.1,697.2 216.6,697.1 218.1,697.1 219.6,697.0 221.1,697.0 222.6,696.9 224.1,696.9 225.6,696.8 227.1,696.7 228.6,696.6 230.1,696.5 231.6,696.4 233.1,696.3 234.6,696.2 236.1,696.0 237.6,695.9 239.1,695.8 240.6,695.6 242.1,695.5 243.6,695.3 245.1,695.1 246.6,695.0 248.1,694.8 249.6,694.6 251.1,694.4 252.6,694.2 254.1,693.9 255.6,693.7 257.1,693.4 258.6,693.1 260.1,692.8 261.6,692.4 263.1,692.0 264.6,691.6 266.1,691.1 267.6,690.6 269.1,690.0 270.6,689.4 272.1,688.7 273.6,688.0 275.1,687.2 276.6,686.4 278.1,685.6 279.6,684.6 281.1,683.7 282.6,682.7 284.1,681.6 285.6,680.6 287.1,679.5 288.6,678.3 290.1,677.2 291.6,676.1 293.1,674.9 294.6,673.8 296.1,672.6 297.6,671.5 299.1,670.3 300.6,669.2 302.1,668.1 303.6,667.0 305.1,665.9 306.6,664.9 308.1,663.9 309.6,662.8 311.1,661.8 312.6,660.8 314.1,659.9 315.6,658.9 317.1,657.9 318.6,657.0 320.1,656.1 321.6,655.2 323.1,654.3 324.6,653.5 326.1,652.7 327.6,651.9 329.1,651.1 330.6,650.4 332.1,649.7 333.6,649.1 335.1,648.5 336.6,648.0 338.1,647.5 339.6,647.1 341.1,646.7 342.6,646.5 344.1,646.2 345.6,646.1 347.1,646.0 348.6,645.9 350.1,645.9 351.6,646.0 353.1,646.0 354.6,646.2 356.1,646.3 357.6,646.5 359.1,646.7 360.6,646.9 362.1,647.2 363.6,647.4 365.1,647.6 366.6,647.9 368.1,648.1 369.6,648.3 371.1,648.4 372.6,648.6 374.1,648.7 375.6,648.8 377.1,648.8 378.6,648.8 380.1,648.8 381.6,648.7 383.1,648.6 384.6,648.4 386.1,648.1 387.6,647.8 389.1,647.5 390.6,647.1 392.1,646.6 393.6,646.0 395.1,645.4 396.6,644.8 398.1,644.0 399.6,643.3 401.1,642.4 402.6,641.5 404.1,640.6 405.6,639.6 407.1,638.6 408.6,637.5 410.1,636.3 411.6,635.2 413.1,634.0 414.6,632.8 416.1,631.5 417.6,630.3 419.1,628.9 420.6,627.6 422.1,626.3 423.6,624.9 425.1,623.5 426.6,622.0 428.1,620.6 429.6,619.1 431.1,617.5 432.6,615.9 434.1,614.3 435.6,612.6 437.1,610.8 438.6,609.0 440.1,607.2 441.6,605.3 443.1,603.3 444.6,601.3 446.1,599.2 447.6,597.0 449.1,594.8 450.6,592.5 452.1,590.2 453.6,587.8 455.1,585.3 456.6,582.9 458.1,580.3 459.6,577.8 461.1,575.1 462.6,572.5 464.1,569.8 465.6,567.1 467.1,564.3 468.6,561.5 470.1,558.6 471.6,555.7 473.1,552.7 474.6,549.7 476.1,546.7 477.6,543.5 479.1,540.4 480.6,537.1 482.1,533.8 483.6,530.4 485.1,527.0 486.6,523.4 488.1,519.8 489.6,516.2 491.1,512.4 492.6,508.6 494.1,504.7 495.6,500.8 497.1,496.7 498.6,492.7 500.1,488.5 501.6,484.3 503.1,480.1 504.6,475.8 506.1,471.5 507.6,467.1 509.1,462.8 510.6,458.3 512.1,453.9 513.6,449.4 515.1,444.9 516.6,440.4 518.1,435.8 519.6,431.3 521.1,426.7 522.6,422.1 524.1,417.4 525.6,412.7 527.1,408.0 528.6,403.3 530.1,398.5 531.6,393.7 533.1,388.8 534.6,383.9 536.1,379.0 537.6,374.0 539.1,369.0 540.6,363.9 542.1,358.8 543.6,353.6 545.1,348.4 546.6,343.1 548.1,337.8 549.6,332.5 551.1,327.1 552.6,321.6 554.1,316.1 555.6,310.5 557.1,305.0 558.6,299.3 560.1,293.7 561.6,288.0 563.1,282.3 564.6,276.5 566.1,270.7 567.6,264.9 569.1,259.1 570.6,253.2 572.1,247.3 573.6,241.4 575.1,235.5 576.6,229.6 578.1,223.7 579.6,217.7 581.1,211.8 582.6,205.9 584.1,199.9 585.6,194.0 587.1,188.1 588.6,182.3 590.1,176.4 591.6,170.6 593.1,164.8 594.6,159.1 596.1,153.5 597.6,147.9 599.1,142.4 600.6,137.0 602.1,131.6 603.6,126.4 605.1,121.4 606.6,116.4 608.1,111.6 609.6,106.9 611.1,102.4 612.6,98.1 614.1,93.9 615.6,89.9 617.1,86.1 618.6,82.5 620.1,79.1 621.6,75.8 623.1,72.8 624.6,70.0 626.1,67.3 627.6,64.9 629.1,62.6 630.6,60.6 632.1,58.7 633.6,57.1 635.1,55.6 636.6,54.3 638.1,53.2 639.6,52.3 641.1,51.6 642.6,51.0 644.1,50.7 645.6,50.5 647.1,50.5 648.6,50.7 650.1,51.1 651.6,51.6 653.1,52.3 654.6,53.2 656.1,54.3 657.6,55.5 659.1,56.9 660.6,58.4 662.1,60.2 663.6,62.0 665.1,64.0 666.6,66.1 668.1,68.4 669.6,70.7 671.1,73.2 672.6,75.8 674.1,78.5 675.6,81.2 677.1,84.0 678.6,86.9 680.1,89.8 681.6,92.7 683.1,95.7 684.6,98.7 686.1,101.7 687.6,104.7 689.1,107.7 690.6,110.7 692.1,113.7 693.6,116.6 695.1,119.6 696.6,122.5 698.1,125.4 699.6,128.3 701.1,131.1 702.6,134.0 704.1,136.8 705.6,139.7 707.1,142.5 708.6,145.3 710.1,148.1 711.6,151.0 713.1,153.8 714.6,156.7 716.1,159.6 717.6,162.5 719.1,165.5 720.6,168.5 722.1,171.6 723.6,174.7 725.1,177.9 726.6,181.2 728.1,184.5 729.6,187.8 731.1,191.3 732.6,194.8 734.1,198.4 735.6,202.1 737.1,205.9 738.6,209.8 740.1,213.8 741.6,217.8 743.1,222.0 744.6,226.2 746.1,230.6 747.6,235.0 749.1,239.6 750.6,244.2 752.1,249.0 753.6,253.8 755.1,258.8 756.6,263.8 758.1,268.9 759.6,274.0 761.1,279.3 762.6,284.6 764.1,289.9 765.6,295.4 767.1,300.8 768.6,306.3 770.1,311.8 771.6,317.3 773.1,322.9 774.6,328.4 776.1,334.0 777.6,339.5 779.1,344.9 780.6,350.4 782.1,355.8 783.6,361.2 785.1,366.5 786.6,371.8 788.1,377.0 789.6,382.1 791.1,387.2 792.6,392.2 794.1,397.1 795.6,401.9 797.1,406.7 798.6,411.4 800.1,415.9 801.6,420.5 803.1,424.9 804.6,429.2 806.1,433.5 807.6,437.6 809.1,441.7 810.6,445.7 812.1,449.7 813.6,453.5 815.1,457.3 816.6,461.1 818.1,464.8 819.6,468.4 821.1,471.9 822.6,475.4 824.1,478.9 825.6,482.4 827.1,485.8 828.6,489.1 830.1,492.5 831.6,495.8 833.1,499.1 834.6,502.4 836.1,505.7 837.6,508.9 839.1,512.2 840.6,515.4 842.1,518.7 843.6,521.9 845.1,525.1 846.6,528.3 848.1,531.5 849.6,534.7 851.1,537.9 852.6,541.1 854.1,544.2 855.6,547.3 857.1,550.4 858.6,553.5 860.1,556.6 861.6,559.6 863.1,562.6 864.6,565.5 866.1,568.4 867.6,571.3 869.1,574.2 870.6,577.0 872.1,579.7 873.6,582.4 875.1,585.1 876.6,587.7 878.1,590.2 879.6,592.7 881.1,595.1 882.6,597.5 884.1,599.8 885.6,602.0 887.1,604.2 888.6,606.3 890.1,608.3 891.6,610.3 893.1,612.2 894.6,614.0 896.1,615.8 897.6,617.5 899.1,619.2 900.6,620.8 902.1,622.3 903.6,623.8 905.1,625.3 906.6,626.7 908.1,628.0 909.6,629.4 911.1,630.7 912.6,632.0 914.1,633.2 915.6,634.5 917.1,635.7 918.6,636.9 920.1,638.1 921.6,639.3 923.1,640.5 924.6,641.7 926.1,642.9 927.6,644.0 929.1,645.2 930.6,646.4 932.1,647.6 933.6,648.8 935.1,650.0 936.6,651.2 938.1,652.4 939.6,653.6 941.1,654.8 942.6,656.0 944.1,657.2 945.6,658.4 947.1,659.6 948.6,660.8 950.1,662.0 951.6,663.1 953.1,664.3 954.6,665.5 956.1,666.7 957.6,667.8 959.1,669.0 960.6,670.1 962.1,671.2 963.6,672.3 965.1,673.4 966.6,674.5 968.1,675.5 969.6,676.5 971.1,677.5 972.6,678.5 974.1,679.4 975.6,680.3 977.1,681.2 978.6,682.0 980.1,682.8 981.6,683.6 983.1,684.3 984.6,685.0 986.1,685.7 987.6,686.4 989.1,687.0 990.6,687.6 992.1,688.1 993.6,688.7 995.1,689.2 996.6,689.7 998.1,690.2 999.6,690.7 1001.1,691.1 1002.6,691.5 1004.1,691.9 1005.6,692.3 1007.1,692.7 1008.6,693.0 1010.1,693.4 1011.6,693.7 1013.1,694.0 1014.6,694.3 1016.1,694.6 1017.6,694.8 1019.1,695.1 1020.6,695.3 1022.1,695.5 1023.6,695.7 1025.1,695.9 1026.6,696.1 1028.1,696.3 1029.6,696.4 1031.1,696.5 1032.6,696.6 1034.1,696.8 1035.6,696.8 1037.1,696.9 1038.6,697.0 1040.1,697.1 1041.6,697.1 1043.1,697.2 1044.6,697.2 1046.1,697.3 1047.6,697.3 1049.1,697.4 1050.6,697.4 1052.1,697.4 1053.6,697.4 1055.1,697.4 1056.6,697.5 1058.1,697.5 1059.6,697.5 1061.1,697.5 1062.6,697.5 1064.1,697.5 1065.6,697.5 1067.1,697.5 1068.6,697.5 1070.1,697.6 1071.6,697.6 1073.1,697.6 1074.6,697.6 1076.1,697.6 1077.6,697.6 1079.1,697.6 1080.6,697.6 1082.1,697.6 1083.6,697.6 1085.1,697.6 1086.6,697.6 1088.1,697.6 1089.6,697.6 1091.1,697.6 1092.6,697.6 1094.1,697.6 1095.6,697.6 1097.1,697.6 1098.6,697.6 1100.1,697.6 1101.6,697.6 1103.1,697.6 1104.6,697.6 1106.1,697.6 1107.6,697.6 1109.1,697.6 1110.6,697.6 1112.1,697.6 1113.6,697.6 1115.1,697.6 1116.6,697.6 1118.1,697.6 1119.6,697.6 1121.1,697.6 1122.6,697.6 1124.1,697.6 1125.6,697.6 1127.1,697.6 1128.6,697.6 1130.1,697.6 1131.6,697.6 1133.1,697.6 1134.6,697.6 1136.1,697.6 1137.6,697.6 1139.1,697.6 1140.6,697.6 1142.1,697.6 1143.6,697.6 1145.1,697.6 1146.6,697.6 1148.1,697.6 1149.6,697.6 1151.1,697.6 1152.6,697.6 1154.1,697.6 1155.6,697.6 1157.1,697.6 1158.6,697.6 1160.1,697.6 1161.6,697.6 1163.1,697.6 1164.6,697.6 1166.1,697.6 1167.6,697.6 1169.1,697.6 1170.6,697.6 1172.1,697.6 1173.6,697.6 1175.1,697.6 1176.6,697.6 1178.1,697.6 1179.6,697.6 1181.1,697.6 1182.6,697.6 1184.1,697.6 1185.6,697.6 1187.1,697.6 1188.6,697.6 1190.1,697.6 1191.6,697.6 1193.1,697.6 1194.6,697.6 1196.1,697.6 1197.6,697.6 1199.1,697.6 1200.6,697.6 1202.1,697.6 1203.6,697.6 1205.1,697.6 1206.6,697.6 1208.1,697.6 1209.6,697.6 1211.1,697.6 1212.6,697.6 1214.1,697.6 1215.6,697.6 1217.1,697.6 1218.6,697.6 1220.1,697.6 1221.6,697.6 1223.1,697.6 1224.6,697.6 1226.1,697.6 1227.6,697.6 1229.1,697.6 1230.6,697.6 1232.1,697.6 1233.6,697.6 1235.1,697.6 1236.6,697.6 1238.1,697.6 1239.6,697.6 1241.1,697.6 1242.6,697.6 1244.1,697.6 1245.6,697.6 1247.1,697.6 1248.6,697.6 1250.1,697.6 1251.6,697.6 1253.1,697.6 1254.6,697.6 1256.1,697.6 1257.6,697.6 1259.1,697.6 1260.6,697.6 1262.1,697.6 1263.6,697.6 1265.1,697.6 1266.6,697.6 1268.1,697.6 1269.6,697.6 1271.1,697.6 1272.6,697.6 1274.1,697.6 1275.6,697.6 1277.1,697.6 1278.6,697.6 1280.1,697.6 1281.6,697.6 1283.1,697.6 1284.6,697.6 1286.1,697.6 1287.6,697.6 1289.1,697.6 1290.6,697.6 1292.1,697.6 1293.6,697.6 1295.1,697.6 1296.6,697.6 1298.1,697.6 1299.6,697.6 1301.1,697.6 1302.6,697.6 1304.1,697.6 1305.6,697.6 1307.1,697.6 1308.6,697.6 1310.1,697.6 1311.6,697.6 1313.1,697.6 1314.6,697.6 1316.1,697.6 1317.6,697.6 1319.1,697.6 1320.6,697.6 1322.1,697.6 1323.6,697.6 1325.1,697.6 1326.6,697.6 1328.1,697.6 1329.6,697.6 1331.1,697.6 1332.6,697.6 1334.1,697.6 1335.6,697.6 1337.1,697.6 1338.6,697.6 1340.1,697.6 1341.6,697.6 1343.1,697.6 1344.6,697.6 1346.1,697.6 1347.6,697.6 1349.1,697.6 1350.6,697.6 1352.1,697.6 1353.6,697.6 1355.1,697.6 1356.6,697.6 1358.1,697.6 1359.6,697.6 1361.1,697.6 1362.6,697.6 1364.1,697.6 1365.6,697.6 1367.1,697.6 1368.6,697.6 1370.1,697.6 1371.6,697.6 1373.1,697.6 1374.6,697.6 1375.8,697.6" fill="none" stroke="#3a8428" stroke-width="1.95" stroke-linejoin="round"/>
<g font-family="Liberation Sans, sans-serif" font-size="27" fill="#474747" class="t" text-anchor="middle">
<text x="121.40" y="729.8">−4</text>
<text x="253.70" y="729.8">−3</text>
<text x="386.00" y="729.8">−2</text>
<text x="518.30" y="729.8">−1</text>
<text x="650.60" y="729.8">0</text>
<text x="782.90" y="729.8">1</text>
<text x="915.20" y="729.8">2</text>
<text x="1047.50" y="729.8">3</text>
<text x="1179.80" y="729.8">4</text>
<text x="1312.10" y="729.8">5</text>
</g>
<g font-family="Liberation Sans, sans-serif" font-size="27" fill="#474747" class="t" text-anchor="end" letter-spacing="1.0">
<text x="101.4" y="707.70">0.00</text>
<text x="101.4" y="639.42">0.05</text>
<text x="101.4" y="571.14">0.10</text>
<text x="101.4" y="502.86">0.15</text>
<text x="101.4" y="434.58">0.20</text>
<text x="101.4" y="366.30">0.25</text>
<text x="101.4" y="298.02">0.30</text>
<text x="101.4" y="229.74">0.35</text>
<text x="101.4" y="161.46">0.40</text>
<text x="101.4" y="93.18">0.45</text>
</g>
<text x="772.8" y="767" font-family="Liberation Sans, sans-serif" font-size="32" fill="#474747" class="t" text-anchor="middle" letter-spacing="0.9">rating</text>
<text transform="translate(27,357.5) rotate(-90)" font-family="Liberation Sans, sans-serif" font-size="32" fill="#474747" class="t" text-anchor="middle" letter-spacing="0.5">density</text>
<text x="1477" y="311" font-family="Liberation Sans, sans-serif" font-size="32" fill="#474747" class="t">cond</text>
<rect x="1478.5" y="336.6" width="41.6" height="41.1" fill="#7fbfa6" stroke="#3a8428" stroke-width="2.4"/>
<rect x="1478.5" y="382.6" width="41.6" height="41.2" fill="#ee9068" stroke="#3a8428" stroke-width="2.4"/>
<text x="1530" y="367" font-family="Liberation Sans, sans-serif" font-size="27" fill="#474747" class="t">A</text>
<text x="1530.6" y="413" font-family="Liberation Sans, sans-serif" font-size="27" fill="#474747" class="t" textLength="15" lengthAdjust="spacingAndGlyphs">B</text>
<path d="M466.1,109.69999999999999 H565.2 A9,9 0 0 1 574.2,118.69999999999999 V125.69999999999999 L600.3,136.2 L574.2,146.7 V153.7 A9,9 0 0 1 565.2,162.7 H466.1 A9,9 0 0 1 457.1,153.7 V118.69999999999999 A9,9 0 0 1 466.1,109.69999999999999 Z" fill="#ffffff" stroke="#000000" stroke-width="2" stroke-linejoin="miter"/>
<rect x="468.9" y="121.3" width="8.1" height="29.8" fill="#d8ebe4"/>
<text x="489.3" y="146.2" font-family="Liberation Sans, sans-serif" font-size="27" fill="#474747" class="t" letter-spacing="1.4">0.411</text>
<path d="M466.1,443.25 H565.2 A9,9 0 0 1 574.2,452.25 V459.25 L600.0,469.75 L574.2,480.25 V487.25 A9,9 0 0 1 565.2,496.25 H466.1 A9,9 0 0 1 457.1,487.25 V452.25 A9,9 0 0 1 466.1,443.25 Z" fill="#ffffff" stroke="#000000" stroke-width="2" stroke-linejoin="miter"/>
<rect x="468.9" y="454.9" width="8.1" height="29.8" fill="#fadfd3"/>
<text x="489.3" y="479.8" font-family="Liberation Sans, sans-serif" font-size="27" fill="#474747" class="t" letter-spacing="1.4">0.167</text>
<rect x="562" y="704" width="77.7" height="51.7" fill="#444444"/>
<text x="601.0" y="740.3" font-family="Liberation Sans, sans-serif" font-size="27" fill="#ffffff" stroke="#ffffff" stroke-width="0.5" text-anchor="middle" letter-spacing="0.3">−0.4</text>
</svg>
</body></html>
